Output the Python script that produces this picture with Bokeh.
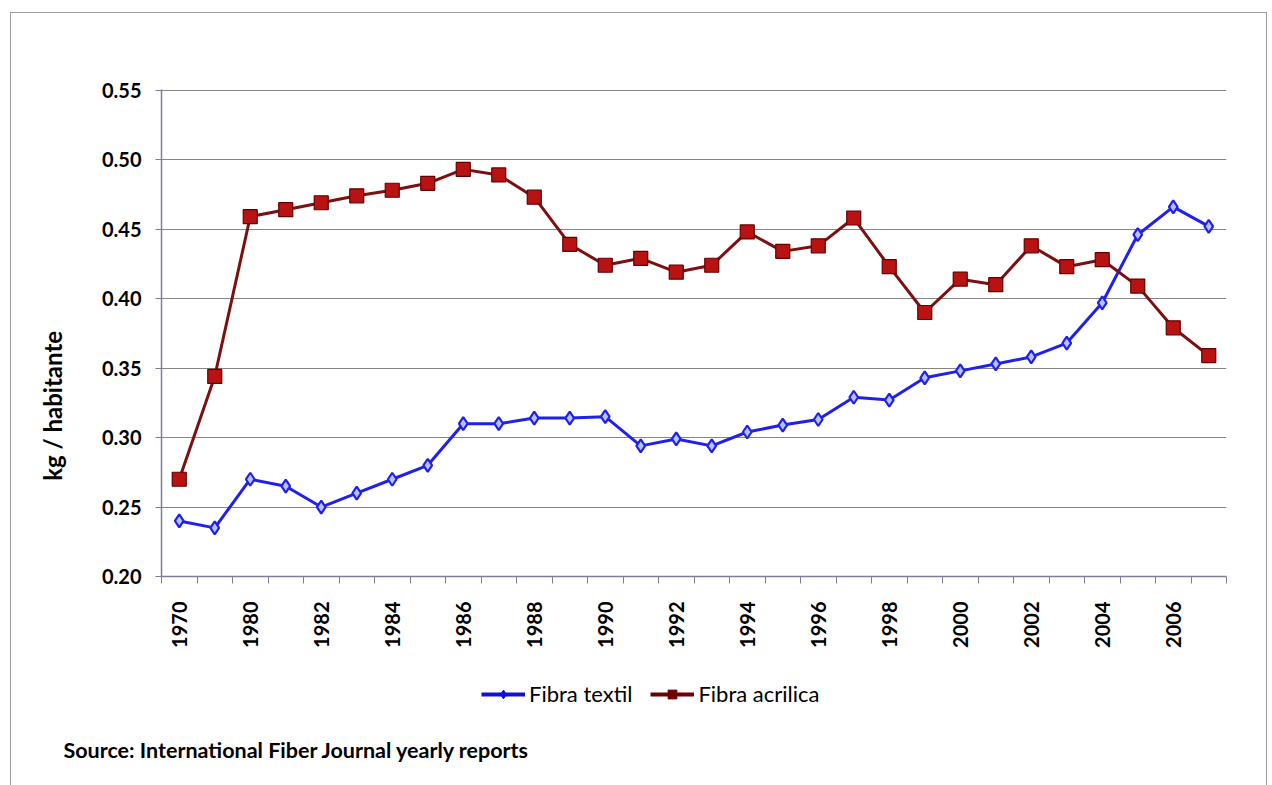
from bokeh.plotting import figure
from bokeh.layouts import column
from bokeh.models import (ColumnDataSource, FixedTicker, NumeralTickFormatter, Legend,
                          LegendItem, Title, Range1d)
from bokeh.embed import file_html
from bokeh.resources import INLINE
import math

# ---- data ----
years = ["1970", "1975", "1980", "1981", "1982", "1983", "1984", "1985", "1986", "1987",
         "1988", "1989", "1990", "1991", "1992", "1993", "1994", "1995", "1996", "1997",
         "1998", "1999", "2000", "2001", "2002", "2003", "2004", "2005", "2006", "2007"]
fibra_textil = [0.240, 0.235, 0.270, 0.265, 0.250, 0.260, 0.270, 0.280, 0.310, 0.310,
                0.314, 0.314, 0.315, 0.294, 0.299, 0.294, 0.304, 0.309, 0.313, 0.329,
                0.327, 0.343, 0.348, 0.353, 0.358, 0.368, 0.397, 0.446, 0.466, 0.452]
fibra_acrilica = [0.270, 0.344, 0.459, 0.464, 0.469, 0.474, 0.478, 0.483, 0.493, 0.489,
                  0.473, 0.439, 0.424, 0.429, 0.419, 0.424, 0.448, 0.434, 0.438, 0.458,
                  0.423, 0.390, 0.414, 0.410, 0.438, 0.423, 0.428, 0.409, 0.379, 0.359]
y_ticks = [0.20, 0.25, 0.30, 0.35, 0.40, 0.45, 0.50, 0.55]
series_names = ["Fibra textil", "Fibra acrilica"]
y_title = "kg / habitante"
source_note = "Source: International Fiber Journal yearly reports"

idx = list(range(len(years)))
src = ColumnDataSource(dict(x=idx, year=years, textil=fibra_textil, acrilica=fibra_acrilica))

FONT = "Lato"
AXIS_COL = "#7d7d99"
GRID_COL = "#858585"
W = 1255

p = figure(width=W, height=653, output_backend="svg", toolbar_location=None,
           x_range=Range1d(-0.5, len(years) - 0.5), y_range=Range1d(0.20, 0.5505),
           min_border_left=150, min_border_right=40, min_border_top=76, min_border_bottom=90)
p.outline_line_color = None
p.background_fill_color = "white"
p.border_fill_color = "white"

# grid
p.xgrid.grid_line_color = None
p.ygrid.grid_line_color = GRID_COL
p.ygrid.grid_line_width = 1.2

# y axis
p.yaxis.ticker = FixedTicker(ticks=y_ticks, minor_ticks=[])
p.yaxis.formatter = NumeralTickFormatter(format="0.00")
p.yaxis.major_label_text_font = FONT
p.yaxis.major_label_text_font_style = "bold"
p.yaxis.major_label_text_font_size = "20px"
p.yaxis.major_label_text_color = "black"
p.yaxis.major_label_standoff = 14
p.yaxis.axis_line_color = AXIS_COL
p.yaxis.axis_line_width = 1.5
p.yaxis.major_tick_line_color = AXIS_COL
p.yaxis.major_tick_out = 6
p.yaxis.major_tick_in = 0
# title sits below the axis centre in the reference: pad with no-break spaces
p.yaxis.axis_label = y_title + "\u00a0" * 25
p.yaxis.axis_label_text_font = FONT
p.yaxis.axis_label_text_font_style = "bold"
p.yaxis.axis_label_text_font_size = "24px"
p.yaxis.axis_label_text_color = "black"
p.yaxis.axis_label_standoff = 32

# x axis
p.xaxis.ticker = FixedTicker(ticks=idx[::2], minor_ticks=[i - 0.5 for i in range(len(years) + 1)])
p.xaxis.major_label_overrides = {i: years[i] for i in idx[::2]}
p.xaxis.major_label_orientation = math.pi / 2
p.xaxis.major_label_text_font = FONT
p.xaxis.major_label_text_font_style = "bold"
p.xaxis.major_label_text_font_size = "20px"
p.xaxis.major_label_text_color = "black"
p.xaxis.major_label_standoff = 18
p.xaxis.axis_line_color = AXIS_COL
p.xaxis.axis_line_width = 1.5
p.xaxis.major_tick_out = 0
p.xaxis.major_tick_in = 0
p.xaxis.minor_tick_line_color = AXIS_COL
p.xaxis.minor_tick_out = 7
p.xaxis.minor_tick_in = 0

# series
BLUE = "#2020ee"
RED_LINE = "#7a1010"
RED_FILL = "#b81212"
p.line("x", "textil", source=src, line_color=BLUE, line_width=3)
p.scatter("x", "textil", source=src, marker="diamond", size=13,
          fill_color="#b8c2ff", line_color=BLUE, line_width=2.2)
p.line("x", "acrilica", source=src, line_color=RED_LINE, line_width=3)
p.scatter("x", "acrilica", source=src, marker="square", size=14,
          fill_color=RED_FILL, line_color="#650000", line_width=1.2)

# ---- footer figure: legend + source note ----
H2 = 122
f = figure(width=W, height=H2, output_backend="svg", toolbar_location=None,
           x_range=Range1d(0, 1), y_range=Range1d(0, 1),
           x_axis_type=None, y_axis_type=None,
           min_border_left=150, min_border_right=40, min_border_top=0, min_border_bottom=54)
f.outline_line_color = None
f.grid.visible = False
f.background_fill_color = "white"
f.border_fill_color = "white"

# legend swatches (one point kept outside the visible range so only the key shows)
off = ColumnDataSource(dict(x=[5], y=[5]))
lg1 = f.line("x", "y", source=off, line_color="#1010dd", line_width=4)
lm1 = f.scatter("x", "y", source=off, marker="diamond", size=14,
                fill_color="#1010dd", line_color="#1010dd")
lg2 = f.line("x", "y", source=off, line_color="#6e0000", line_width=4)
lm2 = f.scatter("x", "y", source=off, marker="square", size=13,
                fill_color="#6e0000", line_color="#6e0000")

legend = Legend(items=[LegendItem(label=series_names[0], renderers=[lg1, lm1]),
                       LegendItem(label=series_names[1], renderers=[lg2, lm2])],
                orientation="horizontal", location=(320, 27),
                label_text_font=FONT, label_text_font_size="22px", label_text_color="black",
                glyph_width=44, glyph_height=22, label_standoff=4, spacing=18,
                border_line_color=None, background_fill_alpha=0, padding=0, margin=0)
f.add_layout(legend, "center")

f.add_layout(Title(text=source_note, align="left", offset=-98, standoff=0,
                   text_font=FONT, text_font_style="bold", text_font_size="21.5px",
                   text_color="black"), "below")

layout = column(p, f, spacing=0, margin=(12, 0, 0, 10),
                styles={"border": "1px solid #a0a0a0"})

open("out.html", "w").write(file_html(layout, INLINE))
